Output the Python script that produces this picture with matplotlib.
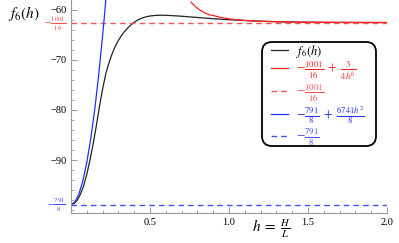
import numpy as np
import matplotlib.pyplot as plt
from matplotlib.ticker import MultipleLocator
from matplotlib.patches import FancyBboxPatch
from matplotlib.transforms import IdentityTransform

plt.rcParams['mathtext.fontset'] = 'stix'
plt.rcParams['font.family'] = ['Liberation Serif', 'DejaVu Serif']

# f6(h)
h_f6 = [0.00, 0.02, 0.04, 0.06, 0.08, 0.10, 0.12, 0.14, 0.16, 0.18, 0.20, 0.22,
        0.24, 0.26, 0.28, 0.30, 0.32, 0.34, 0.36, 0.38, 0.40, 0.42, 0.44, 0.46,
        0.48, 0.50, 0.53, 0.56, 0.60, 0.65, 0.70, 0.80, 0.90, 1.00, 1.10, 1.20,
        1.30, 1.40, 1.50, 1.70, 2.00]
f6 = [-98.875, -98.67, -97.99, -96.8, -95.09, -92.82, -90.0, -86.8, -83.2,
      -79.3, -75.8, -72.8, -70.6, -68.8, -67.3, -66.1, -65.1, -64.3, -63.6,
      -63.0, -62.5, -62.1, -61.8, -61.55, -61.38, -61.25, -61.15, -61.1,
      -61.12, -61.2, -61.3, -61.55, -61.8, -62.0, -62.15, -62.28, -62.38,
      -62.45, -62.5, -62.54, -62.56]

# large-h asymptote  -1001/16 + 3/(4h^6)
h_red = [0.76, 0.77, 0.78, 0.79, 0.80, 0.82, 0.84, 0.86, 0.88, 0.90, 0.93, 0.96,
         1.00, 1.05, 1.10, 1.15, 1.20, 1.30, 1.40, 1.50, 1.70, 2.00]
f_red = [-58.5, -58.85, -59.15, -59.44, -59.70, -60.15, -60.52, -60.81, -61.04,
         -61.15, -61.42, -61.62, -61.81, -61.99, -62.14, -62.24, -62.31, -62.41,
         -62.46, -62.50, -62.53, -62.55]

# small-h expansion  -791/8 + 6741h^2/8
h_blue = [0.0, 0.025, 0.05, 0.075, 0.10, 0.125, 0.15, 0.175, 0.20, 0.21, 0.22]
f_blue = [-98.875, -98.35, -96.77, -94.13, -90.45, -85.71, -79.92, -73.07,
          -65.17, -61.72, -58.09]

lim_large = -1001 / 16
lim_small = -791 / 8

fig = plt.figure(figsize=(3.99, 2.43), dpi=100)
ax = fig.add_axes([0.178, 0.122, 0.792, 0.878])

ax.plot(h_f6, f6, color='#222222', lw=0.9, label=r'$f_6(h)$')
ax.plot(h_red, f_red, color='#ff2020', lw=0.9,
        label=r'$-\frac{1001}{16}\;+\;\frac{3}{4h^6}$')
ax.axhline(lim_large, color='#ff5050', lw=1.0, ls=(0, (4, 3)),
           label=r'$-\frac{1001}{16}$')
ax.plot(h_blue, f_blue, color='#2030ff', lw=0.9,
        label=r'$-\frac{791}{8}\;+\;\frac{6741h^2}{8}$')
ax.axhline(lim_small, color='#4050ff', lw=1.0, ls=(0, (4, 3)),
           label=r'$-\frac{791}{8}$')

ax.set_xlim(0, 2.0)
ax.set_ylim(-100.64, -58.06)

for s in ['top', 'right']:
    ax.spines[s].set_visible(False)
for s in ['left', 'bottom']:
    ax.spines[s].set_color('#999999')
    ax.spines[s].set_linewidth(0.8)

ax.set_xticks([0.5, 1.0, 1.5, 2.0])
ax.xaxis.set_minor_locator(MultipleLocator(0.1))
ax.set_yticks([-90, -80, -70, -60])
ax.yaxis.set_minor_locator(MultipleLocator(2))
ax.tick_params(which='both', direction='in', color='#999999', labelsize=7.5, pad=3)
ax.tick_params(which='major', length=4, width=0.7)
ax.tick_params(which='minor', length=2, width=0.6)

# coloured fraction labels on the y axis
ax.text(-0.015, lim_large - 0.3, r'$-\frac{1001}{16}$', color='#ff5050', fontsize=7,
        ha='right', va='center', transform=ax.get_yaxis_transform())
ax.text(-0.015, lim_small, r'$-\frac{791}{8}$', color='#4050ff', fontsize=7,
        ha='right', va='center', transform=ax.get_yaxis_transform())

fig.text(0.02, 0.945, r'$f_6(h)$', fontsize=11, ha='left', va='center')
fig.text(0.68, 0.058, r'$h\;=\;\frac{H}{L}$', fontsize=11, ha='center', va='center')

# rounded legend frame, drawn in pixels
frame = FancyBboxPatch((262, 97), 114, 104,
                       boxstyle='round,pad=0,rounding_size=10',
                       transform=IdentityTransform(), facecolor='white',
                       edgecolor='black', lw=1.3, zorder=4, clip_on=False)
ax.add_artist(frame)

leg = ax.legend(loc='upper left', bbox_to_anchor=(267 / 399, 1 - 39 / 243),
                bbox_transform=fig.transFigure, fontsize=9, frameon=False,
                handlelength=1.35, handletextpad=0.7, labelspacing=0.02,
                borderpad=0.3, borderaxespad=0)
leg.set_zorder(5)
for text, line in zip(leg.get_texts(), leg.get_lines()):
    text.set_color(line.get_color())
leg.get_texts()[0].set_color('black')

fig.savefig('out.png', dpi=100)
